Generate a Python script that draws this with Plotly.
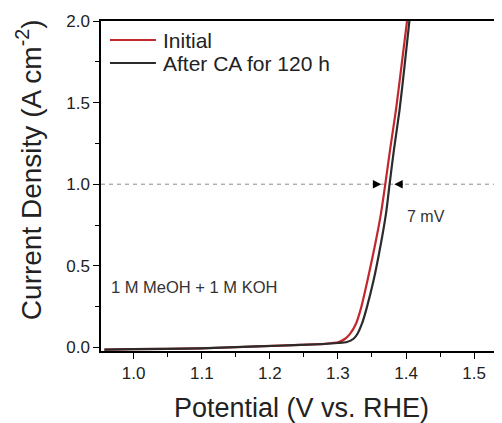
import plotly.graph_objects as go

# Кривые ЛВА (потенциал, В vs. RHE; плотность тока, A cm-2)
v_initial = [0.957, 1.0, 1.0975, 1.181, 1.245, 1.28, 1.301, 1.3107, 1.318, 1.3265,
             1.3343, 1.3435, 1.3539, 1.3632, 1.3696, 1.3765, 1.3852, 1.3935, 1.4015]
j_initial = [-0.014, -0.011, -0.006, 0.006, 0.016, 0.022, 0.033, 0.053, 0.084, 0.145,
             0.247, 0.411, 0.615, 0.82, 1.0, 1.209, 1.454, 1.73, 2.0]

v_after = [0.957, 1.0, 1.0975, 1.181, 1.245, 1.28, 1.300, 1.3132, 1.323, 1.3288,
           1.3353, 1.3426, 1.3524, 1.3622, 1.3706, 1.3759, 1.3822, 1.3905, 1.398, 1.405]
j_after = [-0.014, -0.011, -0.006, 0.006, 0.015, 0.021, 0.027, 0.033, 0.053, 0.084,
           0.145, 0.247, 0.411, 0.615, 0.82, 1.0, 1.209, 1.454, 1.73, 2.0]

series_names = ['Initial', 'After CA for 120 h']

ref_j = 1.0
arrow_v = [1.3637, 1.3828]  # острия стрелок у кривых при 1 A cm-2

red = '#c0282d'
dark = '#2b2b2b'
text_col = '#222222'
colors = [red, dark]

fig = go.Figure()

for name, vx, jy, col in zip(series_names, [v_initial, v_after], [j_initial, j_after], colors):
    fig.add_trace(go.Scatter(x=vx, y=jy, mode='lines', name=name, showlegend=False,
                             line=dict(color=col, width=2.2, shape='spline', smoothing=0.6)))

# Легенда вручную: образцы линий и подписи (в долях области графика)
legend_y = [0.9424, 0.8727]
for name, col, ly in zip(series_names, colors, legend_y):
    fig.add_shape(type='line', xref='paper', yref='paper', x0=0.0224, x1=0.137,
                  y0=ly, y1=ly, line=dict(color=col, width=2.2))
    fig.add_annotation(xref='paper', yref='paper', x=0.1496, y=ly, text=name,
                       showarrow=False, xanchor='left', yanchor='middle',
                       font=dict(size=21, color=text_col))

# Пунктир на уровне 1 A cm-2
fig.add_hline(y=ref_j, line=dict(color='#8c8c8c', width=1, dash='4px,4px'), layer='below')

# Стрелки, указывающие сдвиг 7 mV
fig.add_annotation(x=arrow_v[0], y=ref_j, ax=-10, ay=0, showarrow=True,
                   arrowhead=2, arrowsize=1.4, arrowwidth=1.2, arrowcolor='black', text='')
fig.add_annotation(x=arrow_v[1], y=ref_j, ax=10, ay=0, showarrow=True,
                   arrowhead=2, arrowsize=1.4, arrowwidth=1.2, arrowcolor='black', text='')

fig.add_annotation(x=1.3985, y=0.80, text='7 mV', showarrow=False, xanchor='left',
                   font=dict(size=16, color='#333333'))
fig.add_annotation(x=0.9635, y=0.37, text='1 M MeOH + 1 M KOH', showarrow=False,
                   xanchor='left', font=dict(size=16.5, color='#333333'))

# Подпись оси Y (смещена вверх, как в оригинале)
fig.add_annotation(xref='paper', yref='paper', x=0, y=0.548, xshift=-72,
                   xanchor='center', yanchor='middle',
                   text='Current Density (A cm<sup>-2</sup>)', textangle=-90,
                   showarrow=False, font=dict(size=28, color=text_col))

axis_common = dict(showline=True, linecolor='black', linewidth=1.5, ticks='outside',
                   ticklen=6, tickwidth=1.3, tickcolor='black', showgrid=False,
                   zeroline=False, tickfont=dict(size=17, color=text_col))

fig.update_layout(
    width=494, height=415,
    margin=dict(l=93, r=0, t=13, b=72),
    plot_bgcolor='white', paper_bgcolor='white',
    font=dict(family='Liberation Sans, Arial', color=text_col),
    showlegend=False,
    xaxis=dict(range=[0.952, 1.541], tickvals=[1.0, 1.1, 1.2, 1.3, 1.4, 1.5],
               ticktext=['1.0', '1.1', '1.2', '1.3', '1.4', '1.5'], mirror=True,
               minor=dict(dtick=0.05, tick0=1.0, ticks='outside', ticklen=4,
                          tickwidth=1.2, tickcolor='black'),
               title=dict(text='Potential (V vs. RHE)', font=dict(size=27, color=text_col),
                          standoff=17),
               **axis_common),
    yaxis=dict(range=[-0.022, 2.0], tickvals=[0.0, 0.5, 1.0, 1.5, 2.0],
               ticktext=['0.0', '0.5', '1.0', '1.5', '2.0'],
               minor=dict(dtick=0.25, tick0=0.0, ticks='outside', ticklen=4,
                          tickwidth=1.2, tickcolor='black'),
               **axis_common),
)

fig.write_html('out.html')
